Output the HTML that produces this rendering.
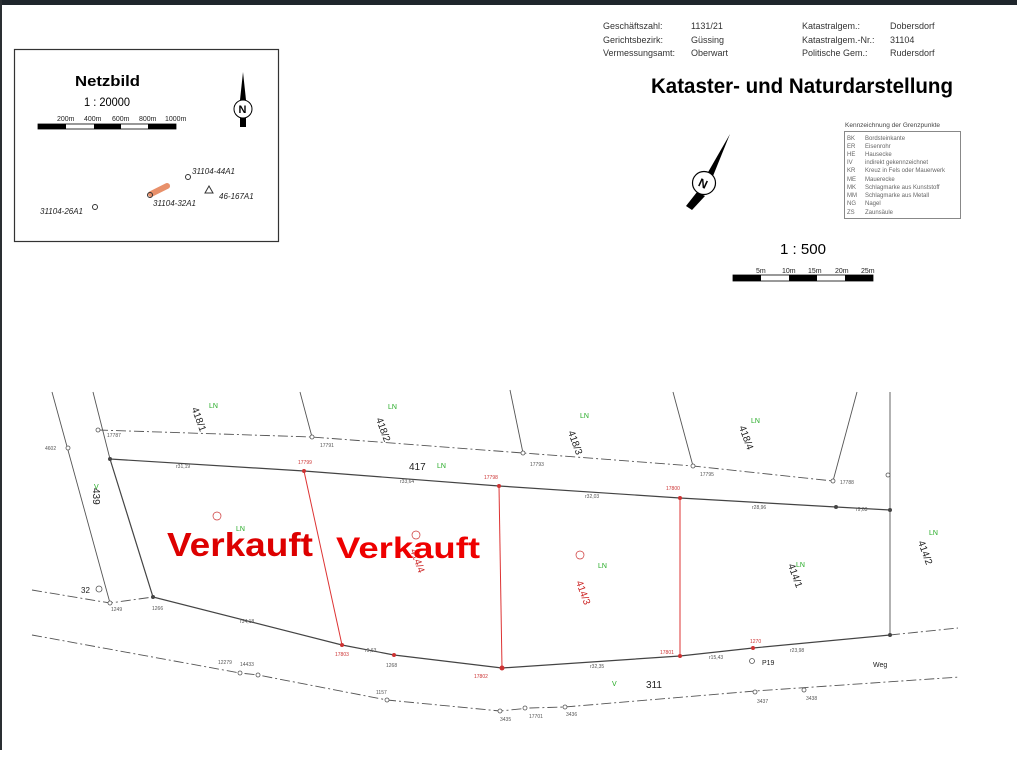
<!DOCTYPE html>
<html><head><meta charset="utf-8"><style>
html,body{margin:0;padding:0;background:#fff;}
svg{display:block;font-family:"Liberation Sans",sans-serif;}
</style></head><body>
<svg width="1017" height="757" viewBox="0 0 1017 757" xmlns="http://www.w3.org/2000/svg">
<rect width="1017" height="757" fill="#fff"/>
<rect x="0" y="0" width="1017" height="5" fill="#1f262c"/>
<rect x="0" y="0" width="2" height="757" fill="#2a2f33"/>

<!-- Netzbild box -->
<rect x="14.5" y="49.5" width="264" height="192" fill="none" stroke="#333" stroke-width="1.2"/>
<text x="75" y="86" font-size="15" font-weight="bold" textLength="65" lengthAdjust="spacingAndGlyphs">Netzbild</text>
<text x="84" y="106" font-size="12" textLength="46" lengthAdjust="spacingAndGlyphs">1 : 20000</text>
<g font-size="7" fill="#222"><text x="57" y="121">200m</text><text x="84" y="121">400m</text><text x="112" y="121">600m</text><text x="139" y="121">800m</text><text x="165" y="121">1000m</text></g>
<rect x="38" y="124" width="138" height="5" fill="#fff" stroke="#000" stroke-width="0.8"/>
<rect x="38" y="124" width="28" height="5" fill="#000"/><rect x="94" y="124" width="27" height="5" fill="#000"/><rect x="148" y="124" width="28" height="5" fill="#000"/>
<!-- small north -->
<polygon points="243,72 246,100 240,100" fill="#000"/>
<rect x="240" y="110" width="6" height="17" fill="#000"/>
<circle cx="243" cy="109" r="9" fill="#fff" stroke="#000"/>
<text x="238.5" y="113" font-size="11" font-weight="bold">N</text>
<g font-size="8" font-style="italic" fill="#222">
<circle cx="188" cy="177" r="2.5" fill="none" stroke="#333"/><text x="192" y="174">31104-44A1</text>
<line x1="151" y1="194" x2="167" y2="186" stroke="#e8906a" stroke-width="6" stroke-linecap="round"/>
<circle cx="150" cy="195" r="2.5" fill="none" stroke="#333"/>
<text x="153" y="206">31104-32A1</text>
<polygon points="209,186 213,193 205,193" fill="none" stroke="#333"/><text x="219" y="199">46-167A1</text>
<text x="40" y="214">31104-26A1</text><circle cx="95" cy="207" r="2.5" fill="none" stroke="#333"/>
</g>

<!-- header -->
<g font-size="9" fill="#333">
<text x="603" y="29">Geschäftszahl:</text><text x="691" y="29">1131/21</text>
<text x="603" y="43">Gerichtsbezirk:</text><text x="691" y="43">Güssing</text>
<text x="603" y="56">Vermessungsamt:</text><text x="691" y="56">Oberwart</text>
<text x="802" y="29">Katastralgem.:</text><text x="890" y="29">Dobersdorf</text>
<text x="802" y="43">Katastralgem.-Nr.:</text><text x="890" y="43">31104</text>
<text x="802" y="56">Politische Gem.:</text><text x="890" y="56">Rudersdorf</text>
</g>
<text x="651" y="93" font-size="21" font-weight="bold" textLength="302" lengthAdjust="spacingAndGlyphs">Kataster- und Naturdarstellung</text>

<!-- legend -->
<text x="845" y="127" font-size="6.5" fill="#444">Kennzeichnung der Grenzpunkte</text>
<rect x="844.5" y="131.5" width="116" height="87" fill="none" stroke="#888"/>
<g font-size="6" fill="#666">
<text x="847" y="140">BK</text><text x="865" y="140">Bordsteinkante</text>
<text x="847" y="148">ER</text><text x="865" y="148">Eisenrohr</text>
<text x="847" y="156">HE</text><text x="865" y="156">Hausecke</text>
<text x="847" y="164">IV</text><text x="865" y="164">indirekt gekennzeichnet</text>
<text x="847" y="172">KR</text><text x="865" y="172">Kreuz in Fels oder Mauerwerk</text>
<text x="847" y="181">ME</text><text x="865" y="181">Mauerecke</text>
<text x="847" y="189">MK</text><text x="865" y="189">Schlagmarke aus Kunststoff</text>
<text x="847" y="197">MM</text><text x="865" y="197">Schlagmarke aus Metall</text>
<text x="847" y="205">NG</text><text x="865" y="205">Nagel</text>
<text x="847" y="214">ZS</text><text x="865" y="214">Zaunsäule</text>
</g>
<!-- big north arrow -->
<polygon points="730,134 713,176 707,174" fill="#000"/>
<polygon points="697,192 705,196 692,210 686,206" fill="#000"/>
<circle cx="704" cy="183" r="11.5" fill="#fff" stroke="#000" stroke-width="1.2"/>
<text x="699" y="188" font-size="12" font-weight="bold" transform="rotate(25 704 183)">N</text>

<text x="780" y="254" font-size="15" textLength="46" lengthAdjust="spacingAndGlyphs">1 : 500</text>
<g font-size="7" fill="#222"><text x="756" y="273">5m</text><text x="782" y="273">10m</text><text x="808" y="273">15m</text><text x="835" y="273">20m</text><text x="861" y="273">25m</text></g>
<rect x="733" y="275" width="140" height="6" fill="#fff" stroke="#000" stroke-width="0.8"/>
<rect x="733" y="275" width="28" height="6" fill="#000"/><rect x="789" y="275" width="28" height="6" fill="#000"/><rect x="845" y="275" width="28" height="6" fill="#000"/>

<!-- plot -->
<g fill="none" stroke="#555" stroke-width="0.9">
<polyline points="98,430 312,437 523,453 693,466 833,481" stroke-dasharray="10,3,2,3"/>
<line x1="52" y1="392" x2="110" y2="603"/>
<line x1="93" y1="392" x2="110" y2="459"/>
<line x1="300" y1="392" x2="312" y2="437"/>
<line x1="510" y1="390" x2="523" y2="453"/>
<line x1="673" y1="392" x2="693" y2="466"/>
<line x1="857" y1="392" x2="833" y2="481"/>
<line x1="890" y1="392" x2="890" y2="635"/>
<polyline points="110,459 304,471 499,486 680,498 836,507 890,510" stroke="#444" stroke-width="1.2"/>
<polyline points="110,459 153,597 342,645 394,655 502,668 680,656 753,648 890,635" stroke="#444" stroke-width="1.2"/>
<polyline points="32,590 110,603 153,597" stroke-dasharray="10,3,2,3"/>
<polyline points="890,635 958,628" stroke-dasharray="10,3,2,3"/>
<polyline points="32,635 240,673 258,675 387,700 500,711 530,708 565,707 755,691 960,677" stroke-dasharray="10,3,2,3"/>
</g>
<g stroke="#d33" stroke-width="1" fill="none">
<line x1="304" y1="471" x2="342" y2="645"/>
<line x1="499" y1="486" x2="502" y2="668"/>
<line x1="680" y1="498" x2="680" y2="656"/>
</g>
<g fill="#fff" stroke="#555" stroke-width="0.8">
<circle cx="98" cy="430" r="2"/><circle cx="312" cy="437" r="2"/><circle cx="523" cy="453" r="2"/><circle cx="693" cy="466" r="2"/><circle cx="833" cy="481" r="2"/>
<circle cx="888" cy="475" r="2"/><circle cx="68" cy="448" r="2"/><circle cx="110" cy="603" r="2"/><circle cx="99" cy="589" r="3"/>
<circle cx="240" cy="673" r="2"/><circle cx="258" cy="675" r="2"/><circle cx="387" cy="700" r="2"/><circle cx="500" cy="711" r="2"/><circle cx="525" cy="708" r="2"/><circle cx="565" cy="707" r="2"/><circle cx="755" cy="692" r="2"/><circle cx="804" cy="690" r="2"/><circle cx="752" cy="661" r="2.5"/>
</g>
<g fill="#c33"><circle cx="304" cy="471" r="2"/><circle cx="499" cy="486" r="2"/><circle cx="680" cy="498" r="2"/><circle cx="342" cy="645" r="2"/><circle cx="394" cy="655" r="2"/><circle cx="502" cy="668" r="2.5"/><circle cx="680" cy="656" r="2"/><circle cx="753" cy="648" r="2"/></g>
<g fill="#444"><circle cx="110" cy="459" r="2"/><circle cx="836" cy="507" r="2"/><circle cx="890" cy="510" r="2"/><circle cx="890" cy="635" r="2"/><circle cx="153" cy="597" r="2"/></g>

<g font-size="10" fill="#222">
<text x="192" y="416" transform="rotate(70 197 412)">418/1</text>
<text x="373" y="431" transform="rotate(70 383 427)">418/2</text>
<text x="565" y="444" transform="rotate(70 575 440)">418/3</text>
<text x="736" y="439" transform="rotate(70 746 435)">418/4</text>
<text x="409" y="470">417</text>
<text x="90" y="499" transform="rotate(90 97 495)">439</text>
<text x="646" y="688">311</text>
<text x="873" y="667" font-size="7">Weg</text>
<text x="81" y="593" font-size="8">32</text>
<text x="762" y="665" font-size="7">P19</text>
<text x="785" y="577" transform="rotate(70 795 573)">414/1</text>
<text x="915" y="554" transform="rotate(70 925 550)">414/2</text>
</g>
<g font-size="10" fill="#c22">
<text x="406" y="564" transform="rotate(70 418 560)">414/4</text>
<text x="573" y="594" transform="rotate(70 583 590)">414/3</text>
</g>
<g fill="none" stroke="#c33" stroke-width="0.7"><circle cx="217" cy="516" r="4"/><circle cx="416" cy="535" r="4"/><circle cx="580" cy="555" r="4"/></g>
<g font-size="7" fill="#2a2">
<text x="209" y="408">LN</text><text x="388" y="409">LN</text><text x="580" y="418">LN</text><text x="751" y="423">LN</text>
<text x="437" y="468">LN</text><text x="236" y="531">LN</text><text x="598" y="568">LN</text><text x="796" y="567">LN</text><text x="929" y="535">LN</text>
<text x="94" y="489">V</text><text x="612" y="686">V</text>
</g>
<g font-size="5" fill="#555">
<text x="45" y="450">4602</text><text x="107" y="437">17787</text><text x="320" y="447">17791</text><text x="530" y="466">17793</text><text x="700" y="476">17795</text><text x="840" y="484">17788</text>
<text x="176" y="468">r31,19</text><text x="400" y="483">r33,64</text><text x="585" y="498">r32,03</text><text x="752" y="509">r28,96</text><text x="856" y="511">r9,63</text>
<text x="240" y="623">r34,18</text><text x="365" y="652">r9,63</text><text x="590" y="668">r32,35</text><text x="709" y="659">r15,43</text><text x="790" y="652">r23,98</text>
<text x="111" y="611">1249</text><text x="152" y="610">1266</text><text x="386" y="667">1268</text><text x="218" y="664">12279</text><text x="240" y="666">14433</text><text x="376" y="694">1157</text><text x="500" y="721">3435</text><text x="529" y="718">17701</text><text x="566" y="716">3436</text><text x="757" y="703">3437</text><text x="806" y="700">3438</text>
</g>
<g font-size="5" fill="#c33"><text x="298" y="464">17799</text><text x="484" y="479">17798</text><text x="666" y="490">17800</text><text x="335" y="656">17803</text><text x="474" y="678">17802</text><text x="660" y="654">17801</text><text x="750" y="643">1270</text></g>

<!-- Verkauft -->
<g font-weight="bold" fill="#d00" stroke="#fff" stroke-width="0.6" paint-order="stroke">
<text x="167" y="556" font-size="33" textLength="146" lengthAdjust="spacingAndGlyphs">Verkauft</text>
<text x="336" y="558" font-size="30" textLength="144" lengthAdjust="spacingAndGlyphs" fill="#e00">Verkauft</text>
</g>
<rect x="0" y="750" width="1017" height="7" fill="#fff"/>
</svg>
</body></html>
